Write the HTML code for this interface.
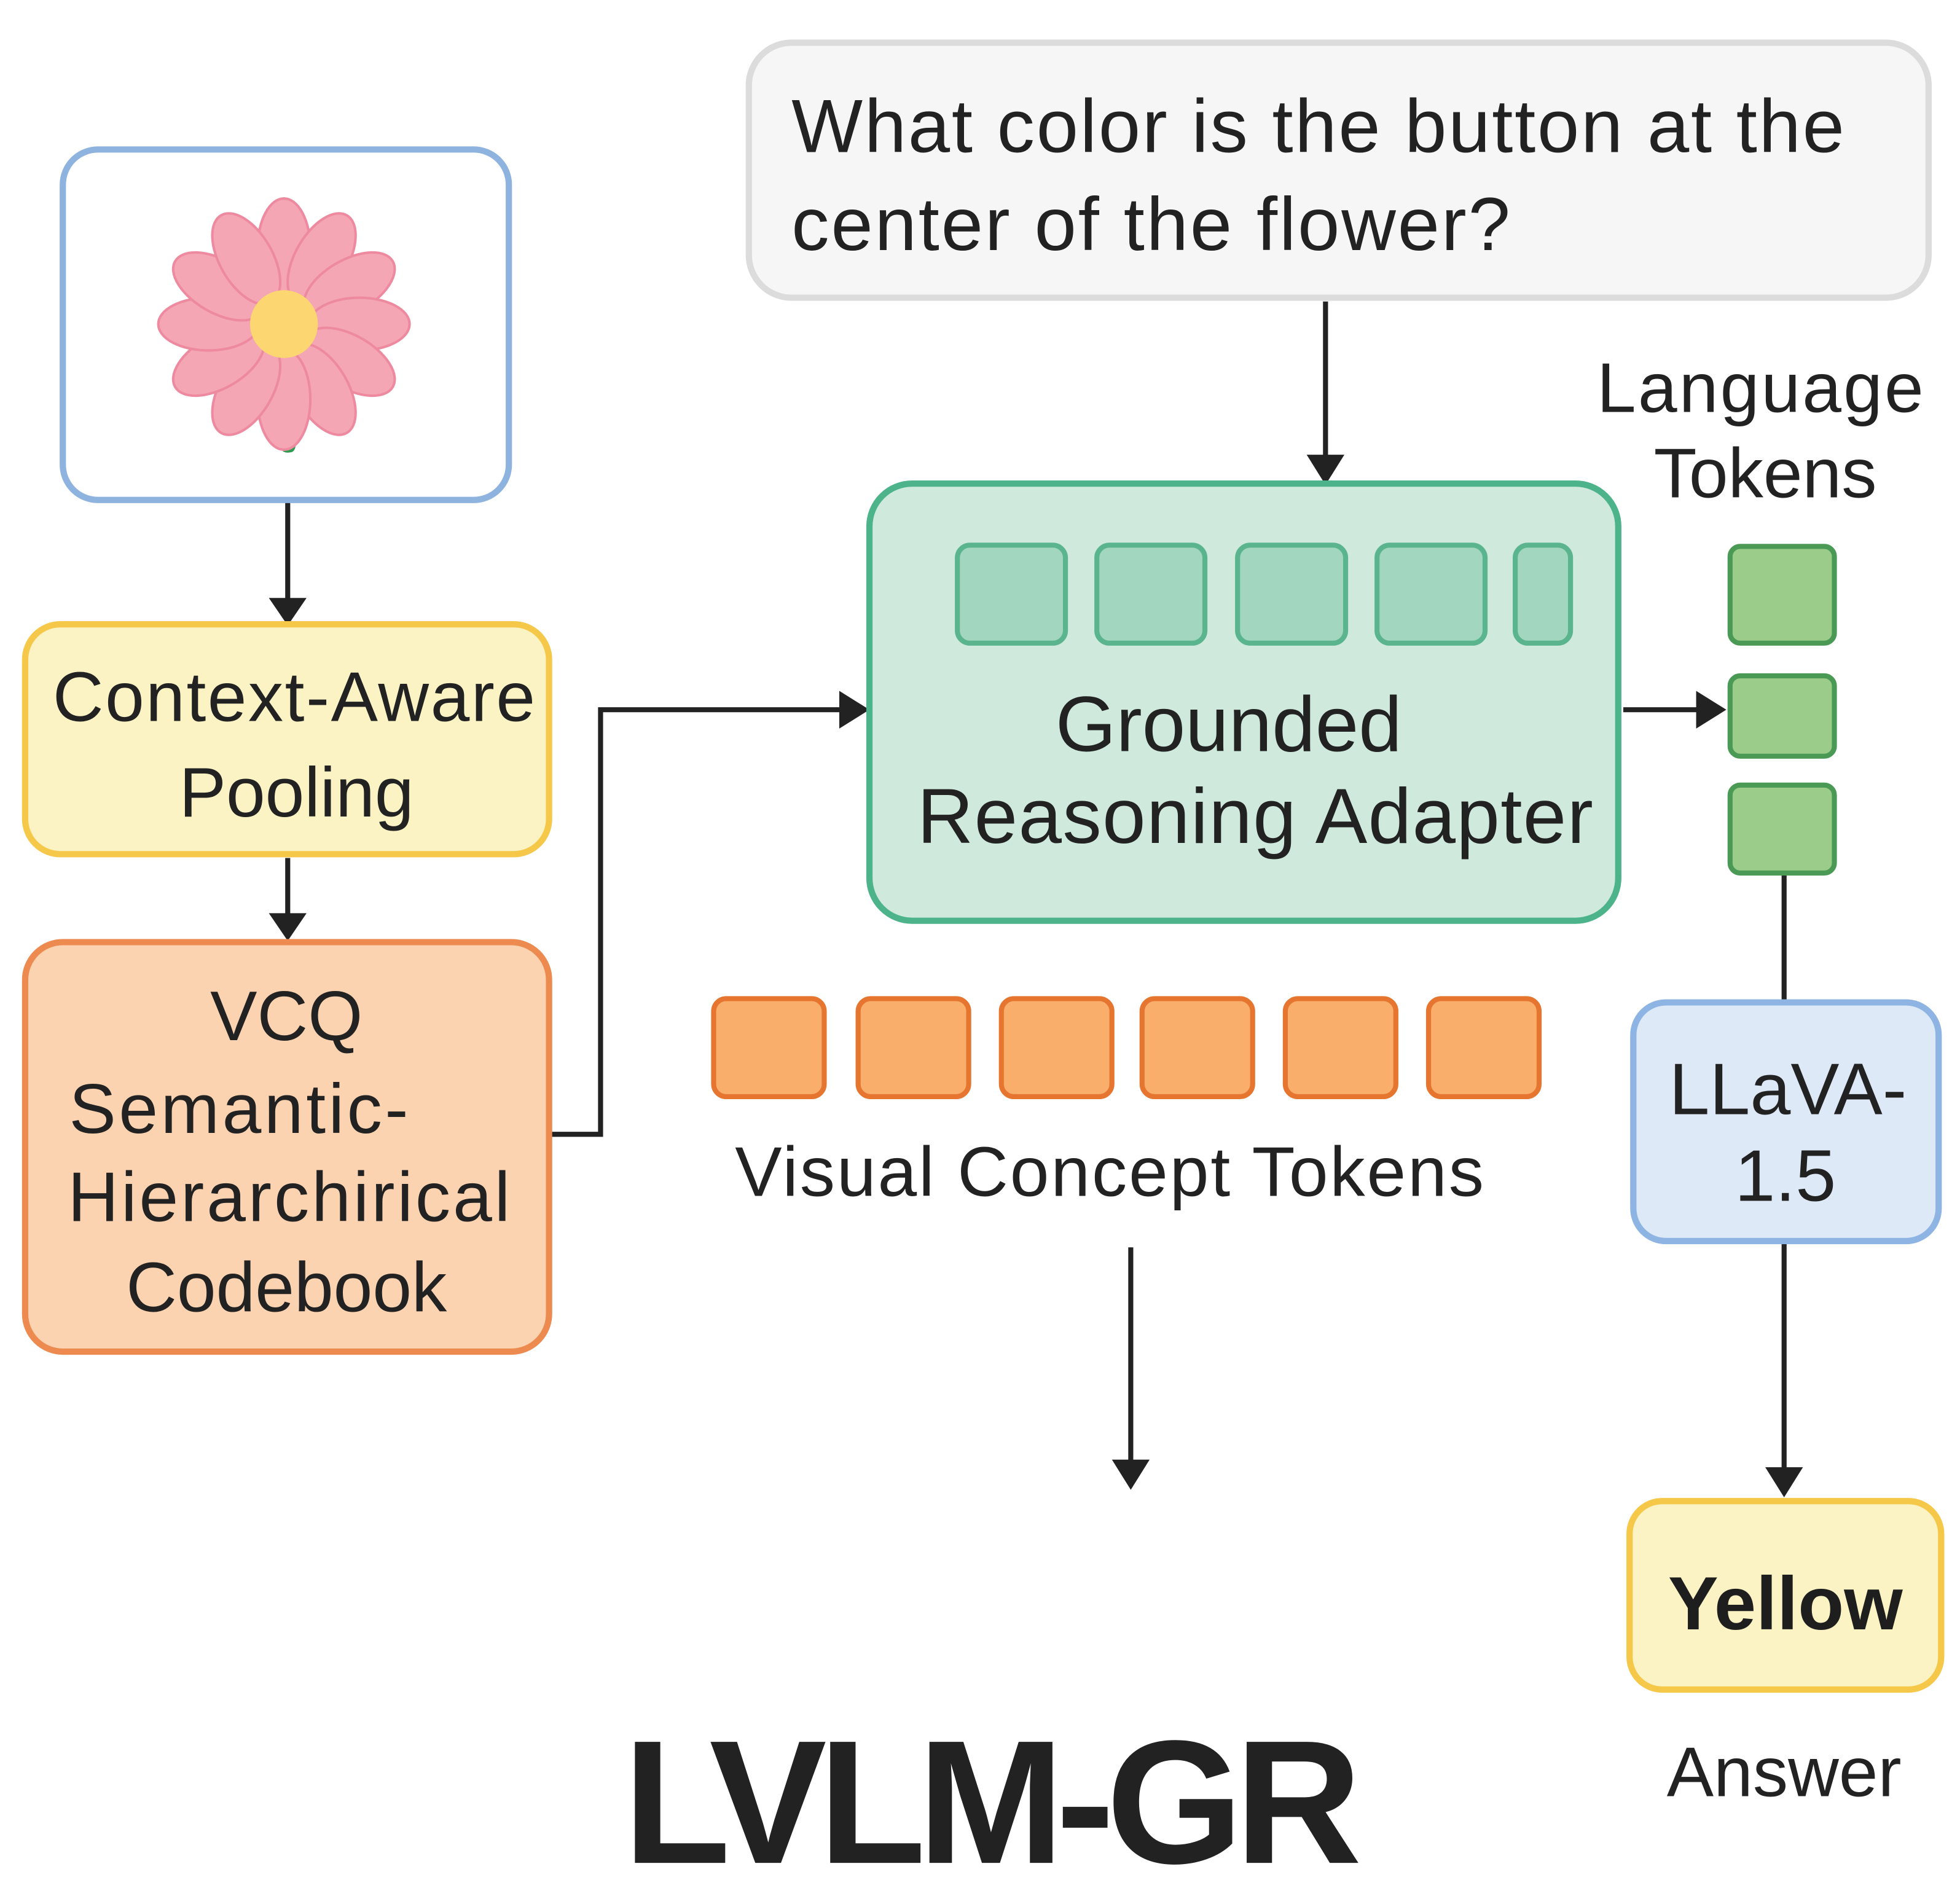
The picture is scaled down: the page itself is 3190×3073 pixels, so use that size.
<!DOCTYPE html>
<html><head><meta charset="utf-8"><style>html,body{margin:0;padding:0;background:#fff}svg{display:block}</style></head>
<body>
<svg width="3190" height="3073" viewBox="0 0 1560 1503" preserveAspectRatio="none" xmlns="http://www.w3.org/2000/svg" font-family="Liberation Sans, sans-serif" fill="#222">
<g stroke="#222" stroke-width="4" fill="none">
<line x1="229" y1="400" x2="229" y2="478"/>
<line x1="229" y1="683" x2="229" y2="730"/>
<polyline points="437,903 478,903 478,565 672,565"/>
<line x1="1055" y1="240" x2="1055" y2="366"/>
<line x1="1292" y1="565" x2="1354" y2="565"/>
<line x1="1420" y1="695" x2="1420" y2="798"/>
<line x1="1420" y1="990" x2="1420" y2="1172"/>
<line x1="900" y1="993" x2="900" y2="1166"/>
</g>
<g fill="#222">
<path d="M214,476 L244,476 L229,498 z"/>
<path d="M214,727 L244,727 L229,749 z"/>
<path d="M668,550 L668,580 L692,565 z"/>
<path d="M1040,362 L1070,362 L1055,386 z"/>
<path d="M1350,550 L1350,580 L1374,565 z"/>
<path d="M1405,1168 L1435,1168 L1420,1192 z"/>
<path d="M885,1162 L915,1162 L900,1186 z"/>
</g>
<rect x="50" y="119" width="355" height="279" rx="28" fill="#fff" stroke="#8fb3df" stroke-width="5"/>
<g transform="translate(226,258)">
<path d="M8,80 q4,20 -2,22 q-10,2 -8,-8 z" fill="#2f9a50"/>
<g fill="#f4a6b4" stroke="#ee8aa0" stroke-width="2">
<ellipse cx="0" cy="-60" rx="21" ry="40" transform="rotate(0)"/>
<ellipse cx="0" cy="-60" rx="21" ry="40" transform="rotate(30)"/>
<ellipse cx="0" cy="-60" rx="21" ry="40" transform="rotate(60)"/>
<ellipse cx="0" cy="-60" rx="21" ry="40" transform="rotate(90)"/>
<ellipse cx="0" cy="-60" rx="21" ry="40" transform="rotate(120)"/>
<ellipse cx="0" cy="-60" rx="21" ry="40" transform="rotate(150)"/>
<ellipse cx="0" cy="-60" rx="21" ry="40" transform="rotate(180)"/>
<ellipse cx="0" cy="-60" rx="21" ry="40" transform="rotate(210)"/>
<ellipse cx="0" cy="-60" rx="21" ry="40" transform="rotate(240)"/>
<ellipse cx="0" cy="-60" rx="21" ry="40" transform="rotate(270)"/>
<ellipse cx="0" cy="-60" rx="21" ry="40" transform="rotate(300)"/>
<ellipse cx="0" cy="-60" rx="21" ry="40" transform="rotate(330)"/>
</g>
<circle cx="0" cy="0" r="27" fill="#fcd670"/>
</g>
<rect x="20" y="497" width="417" height="183" rx="28" fill="#fbf3c4" stroke="#f5c84a" stroke-width="5"/>
<text x="234" y="574" font-size="56" text-anchor="middle" textLength="384">Context-Aware</text>
<text x="236" y="650" font-size="56" text-anchor="middle">Pooling</text>
<rect x="20" y="750" width="417" height="326" rx="30" fill="#fcd3b0" stroke="#ec8a50" stroke-width="5"/>
<g font-size="56" text-anchor="middle">
<text x="228" y="828">VCQ</text>
<text x="190" y="902" textLength="270">Semantic-</text>
<text x="230" y="972" textLength="352">Hierarchirical</text>
<text x="228" y="1044">Codebook</text>
</g>
<rect x="596" y="34" width="939" height="203" rx="34" fill="#f6f6f6" stroke="#dcdcdc" stroke-width="5"/>
<text x="630" y="121" font-size="60" textLength="838">What color is the button at the</text>
<text x="630" y="199" font-size="60" textLength="572">center of the flower?</text>
<rect x="692" y="385" width="596" height="348" rx="34" fill="#cfe9dd" stroke="#4db38a" stroke-width="5"/>
<g fill="#a3d6bf" stroke="#5ab58f" stroke-width="4">
<rect x="762" y="434" width="86" height="78" rx="10"/>
<rect x="873" y="434" width="86" height="78" rx="10"/>
<rect x="985" y="434" width="86" height="78" rx="10"/>
<rect x="1096" y="434" width="86" height="78" rx="10"/>
<rect x="1206" y="434" width="44" height="78" rx="10"/>
</g>
<text x="978" y="598" font-size="62" text-anchor="middle">Grounded</text>
<text x="999" y="671" font-size="62" text-anchor="middle" textLength="538">Reasoning Adapter</text>
<text x="1401" y="328" font-size="56" text-anchor="middle" textLength="260">Language</text>
<text x="1405" y="396" font-size="56" text-anchor="middle">Tokens</text>
<g fill="#9ccc8a" stroke="#4a9a55" stroke-width="4">
<rect x="1377" y="435" width="83" height="77" rx="8"/>
<rect x="1377" y="538" width="83" height="64" rx="8"/>
<rect x="1377" y="625" width="83" height="70" rx="8"/>
</g>
<rect x="1300" y="798" width="243" height="190" rx="26" fill="#dde9f7" stroke="#8db4e2" stroke-width="5"/>
<text x="1423" y="887" font-size="58" text-anchor="middle">LLaVA-</text>
<text x="1421" y="956" font-size="58" text-anchor="middle">1.5</text>
<rect x="1297" y="1195" width="248" height="150" rx="26" fill="#fbf3c4" stroke="#f5c84a" stroke-width="5"/>
<text x="1421" y="1297" font-size="60" text-anchor="middle" font-weight="bold" fill="#1e1e1e">Yellow</text>
<text x="1420" y="1430" font-size="56" text-anchor="middle">Answer</text>
<g fill="#f9ae6c" stroke="#e6762f" stroke-width="4">
<rect x="568" y="795" width="88" height="78" rx="10"/>
<rect x="683" y="795" width="88" height="78" rx="10"/>
<rect x="797" y="795" width="88" height="78" rx="10"/>
<rect x="909" y="795" width="88" height="78" rx="10"/>
<rect x="1023" y="795" width="88" height="78" rx="10"/>
<rect x="1137" y="795" width="88" height="78" rx="10"/>
</g>
<text x="883" y="952" font-size="56" text-anchor="middle" textLength="596">Visual Concept Tokens</text>
<text x="790" y="1483" font-size="140" font-weight="bold" text-anchor="middle" textLength="588" fill="#222">LVLM-GR</text>
</svg>
</body></html>
